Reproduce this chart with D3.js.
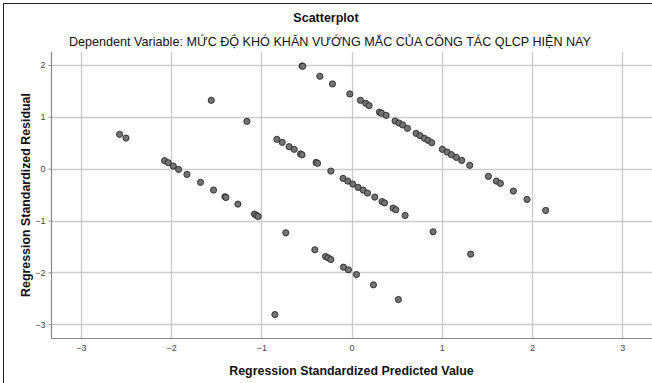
<!DOCTYPE html>
<html><head><meta charset="utf-8">
<script src="https://cdn.jsdelivr.net/npm/d3@7"></script>
<style>
html,body{margin:0;padding:0;background:#fff;}
svg{display:block;font-family:Arial,"Liberation Sans",sans-serif;}
</style></head>
<body>
<svg id="chart" width="652" height="383"></svg>
<script>
const title = "Scatterplot";
const subtitle = "Dependent Variable: MỨC ĐỘ KHÓ KHĂN VƯỚNG MẮC CỦA CÔNG TÁC QLCP HIỆN NAY";
const xLabel = "Regression Standardized Predicted Value";
const yLabel = "Regression Standardized Residual";
const xTicks = [-3, -2, -1, 0, 1, 2, 3];
const yTicks = [-3, -2, -1, 0, 1, 2];

const predicted = [
  -2.570, -2.499, -1.554, -1.159, -0.547, -0.540, -0.351, -0.211, -0.019, 0.099,
  0.158, 0.195, 0.310, 0.332, 0.384, 0.483, 0.527, 0.568, 0.620, 0.716,
  0.760, 0.808, 0.849, 0.889, 1.007, 1.059, 1.107, 1.162, 1.221, 1.310,
  1.517, 1.605, 1.650, 1.794, 1.945, 2.152,
  -2.071, -2.031, -1.975, -1.916, -1.824, -1.673, -1.529, -1.403, -1.392, -1.259,
  -1.075, -1.052, -1.034, -0.728,
  -0.827, -0.768, -0.691, -0.635, -0.565, -0.548, -0.392, -0.376, -0.229, -0.093,
  -0.041, 0.014, 0.073, 0.129, 0.177, 0.258, 0.338, 0.366, 0.461, 0.491,
  0.594, 0.904,
  -0.406, -0.288, -0.259, -0.229, -0.089, -0.034, 0.055, 0.243, 0.520,
  -0.849, 1.321
];
const residual = [
  0.662, 0.591, 1.318, 0.913, 1.981, 1.975, 1.782, 1.634, 1.441, 1.318,
  1.261, 1.216, 1.090, 1.070, 1.029, 0.919, 0.881, 0.842, 0.778, 0.681,
  0.636, 0.585, 0.546, 0.501, 0.373, 0.321, 0.270, 0.218, 0.160, 0.064,
  -0.149, -0.239, -0.284, -0.432, -0.593, -0.805,
  0.154, 0.115, 0.051, -0.014, -0.110, -0.264, -0.412, -0.541, -0.555, -0.683,
  -0.876, -0.902, -0.921, -1.236,
  0.566, 0.508, 0.424, 0.373, 0.285, 0.268, 0.120, 0.104, -0.046, -0.187,
  -0.239, -0.297, -0.361, -0.412, -0.470, -0.548, -0.635, -0.660, -0.760, -0.792,
  -0.902, -1.217,
  -1.564, -1.693, -1.719, -1.751, -1.899, -1.950, -2.041, -2.240, -2.523,
  -2.813, -1.648
];

const svg = d3.select("#chart");
const plot = {left: 51, right: 652, top: 52, bottom: 338};

const x = d3.scaleLinear().domain([-3.33, 3.33]).range([plot.left, plot.right]);
const y = d3.scaleLinear().domain([-3.265, 2.25]).range([plot.bottom, plot.top]);

// outer frame
svg.append("rect").attr("x", 3.5).attr("y", 3.5).attr("width", 660).attr("height", 400)
  .attr("fill", "none").attr("stroke", "#222").attr("stroke-width", 1);

// grid
const grid = svg.append("g");
grid.selectAll("line.v").data(xTicks).enter().append("line")
  .attr("x1", d => Math.round(x(d)) + 0.5).attr("x2", d => Math.round(x(d)) + 0.5)
  .attr("y1", plot.top).attr("y2", plot.bottom)
  .attr("stroke", "#cccccc").attr("stroke-width", 1.4);
grid.selectAll("line.h").data(yTicks).enter().append("line")
  .attr("y1", d => Math.round(y(d)) + 0.5).attr("y2", d => Math.round(y(d)) + 0.5)
  .attr("x1", plot.left).attr("x2", plot.right)
  .attr("stroke", "#cccccc").attr("stroke-width", 1.4);

// axes
const xAxis = d3.axisBottom(x).tickValues(xTicks).tickSize(0).tickPadding(6).tickFormat(d3.format("d"));
const yAxis = d3.axisLeft(y).tickValues(yTicks).tickSize(3).tickPadding(3).tickFormat(d3.format("d"));
const gx = svg.append("g").attr("transform", `translate(0,${plot.bottom + 0.5})`).call(xAxis);
const gy = svg.append("g").attr("transform", `translate(${plot.left + 0.5},0)`).call(yAxis);
[gx, gy].forEach(g => {
  g.select(".domain").attr("stroke", "#888").attr("stroke-width", 1.2);
  g.selectAll(".tick line").attr("stroke", "#888");
  g.selectAll(".tick text").attr("fill", "#444").attr("font-size", "9px")
    .attr("font-family", "Arial, 'Liberation Sans', sans-serif");
});
gx.select(".domain").attr("d", `M${plot.left},0H${plot.right}`);
gy.select(".domain").attr("d", `M0,${plot.top}V${plot.bottom}`);

// points
svg.append("g").selectAll("circle")
  .data(predicted.map((p, i) => ({p, r: residual[i]})))
  .enter().append("circle")
  .attr("cx", d => x(d.p)).attr("cy", d => y(d.r)).attr("r", 3.1)
  .attr("fill", "#737373").attr("stroke", "#2a2a2a").attr("stroke-width", 0.9);

// texts
svg.append("text").attr("x", 326).attr("y", 22).attr("text-anchor", "middle")
  .attr("font-size", "12.5px").attr("font-weight", "bold").attr("fill", "#111").text(title);
svg.append("text").attr("x", 330).attr("y", 46).attr("text-anchor", "middle")
  .attr("font-size", "12.6px").attr("fill", "#111").text(subtitle);
svg.append("text").attr("x", (plot.left + plot.right) / 2).attr("y", 375).attr("text-anchor", "middle")
  .attr("font-size", "12.4px").attr("font-weight", "bold").attr("fill", "#111").text(xLabel);
svg.append("text").attr("transform", `translate(26,${(plot.top + plot.bottom) / 2}) rotate(-90)`)
  .attr("text-anchor", "middle").attr("dy", "0.35em")
  .attr("font-size", "12.4px").attr("font-weight", "bold").attr("fill", "#111").text(yLabel);
</script>
</body></html>
